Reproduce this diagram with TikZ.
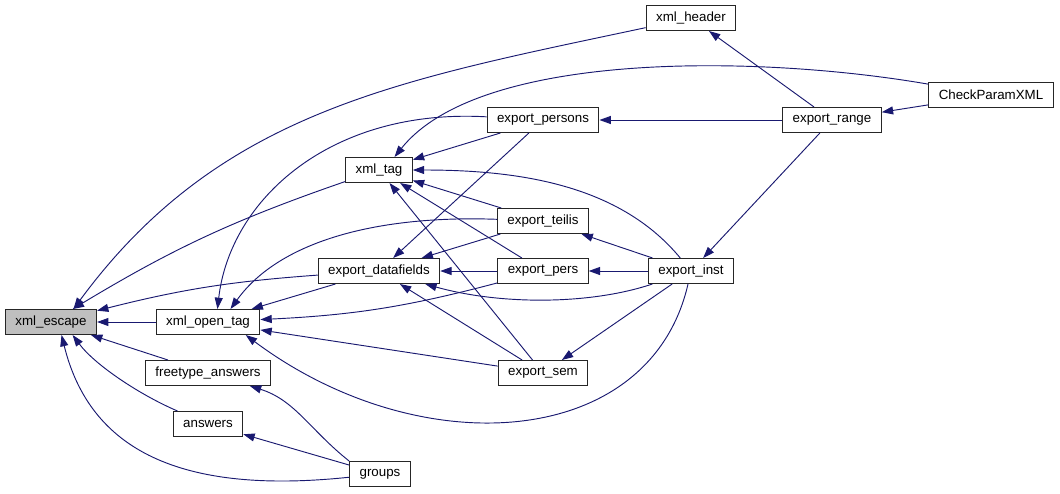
\documentclass[tikz,border=0pt]{standalone}
\usepackage{fontspec}
\setmainfont{Liberation Sans}
\usetikzlibrary{arrows.meta}
\definecolor{callblue}{HTML}{191970}
\definecolor{focusgray}{HTML}{BFBFBF}

\begin{document}
\begin{tikzpicture}
[x=0.75pt,y=-0.75pt,
 fn/.style={rectangle,draw=black!85,fill=white,line width=0.75pt,inner
    xsep=7.5pt,inner ysep=0pt,minimum height=18.75pt,font=\fontsize{10}{12}\selectfont},
 call/.style={draw=callblue,line width=0.7pt,-{Triangle[length=8.5pt,width=6pt]}}]
\useasboundingbox (0,0) rectangle (1060,493);

\node[fn,fill=focusgray] (escape) at (51,322) {xml\_escape};
\node[fn] (opentag) at (208,322) {xml\_open\_tag};
\node[fn] (freetype) at (208,373) {freetype\_answers};
\node[fn] (answers) at (208,424) {answers};
\node[fn] (groups) at (380,474) {groups};
\node[fn] (tag) at (379,170) {xml\_tag};
\node[fn] (datafields) at (379,271) {export\_datafields};
\node[fn] (persons) at (543,120) {export\_persons};
\node[fn] (teilis) at (543,221) {export\_teilis};
\node[fn] (pers) at (543,271) {export\_pers};
\node[fn] (sem) at (543,373) {export\_sem};
\node[fn] (inst) at (691,271) {export\_inst};
\node[fn] (header) at (691,18) {xml\_header};
\node[fn] (range) at (832,120) {export\_range};
\node[fn] (check) at (991,95) {CheckParamXML};

% callers of xml_escape
\draw [call] (opentag) -- (escape);
\draw [call] (freetype) -- (escape);
\draw [call] (answers) .. controls (140,395) and (95,365) .. (escape.-31);
\draw [call] (groups) .. controls (180,495) and (90,450) .. (escape.-51);
\draw [call] (tag) to[bend right=6] (escape);
\draw [call] (datafields) to[bend right=5] (escape);
\draw [call] (header) .. controls (400,80) and (220,110) .. (escape.30);

% callers of xml_open_tag
\draw [call] (persons) .. controls (330,108) and (230,200) .. (opentag.54);
\draw [call] (datafields) -- (opentag);
\draw [call] (teilis) .. controls (380,215) and (280,240) .. (opentag.30);
\draw [call] (pers) to[bend left=6] (opentag);
\draw [call] (sem) -- (opentag);
\draw [call] (inst) .. controls (650,450) and (420,465) .. (opentag.-19);
\draw [call] (groups.north west) .. controls (310,430) and (295,400) .. (freetype);
\draw [call] (groups) -- (answers);

% callers of xml_tag
\draw [call] (check) .. controls (760,55) and (480,50) .. (tag.40);
\draw [call] (persons) -- (tag);
\draw [call] (teilis) -- (tag);
\draw [call] (pers) -- (tag);
\draw [call] (sem) -- (tag);
\draw [call] (inst) .. controls (620,185) and (520,170) .. (tag);

% callers of export_datafields
\draw [call] (persons) -- (datafields);
\draw [call] (teilis) -- (datafields);
\draw [call] (pers) -- (datafields);
\draw [call] (sem) -- (datafields);
\draw [call] (inst) .. controls (590,305) and (500,305) .. (datafields);

% export_inst and export_range
\draw [call] (inst) -- (teilis);
\draw [call] (inst) -- (pers);
\draw [call] (inst) -- (sem);
\draw [call] (range) -- (persons);
\draw [call] (range) -- (header);
\draw [call] (range) -- (inst);
\draw [call] (check) -- (range);
\end{tikzpicture}
\end{document}
